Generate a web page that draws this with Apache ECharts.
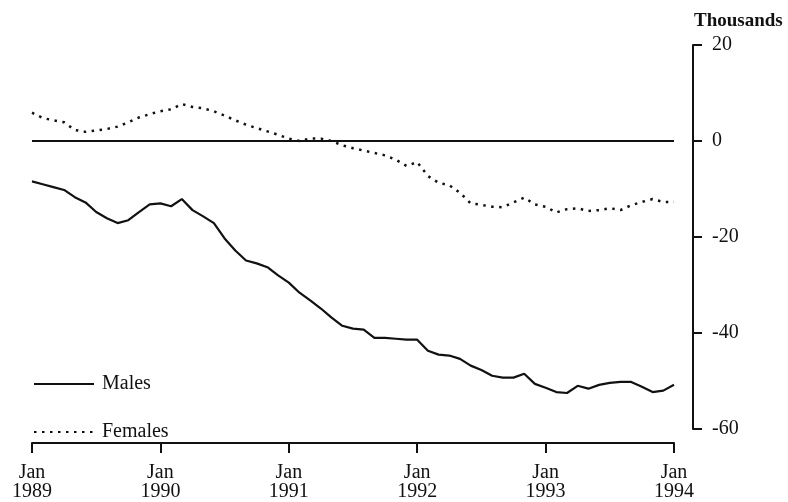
<!DOCTYPE html>
<html>
<head>
<meta charset="utf-8">
<script src="https://cdn.jsdelivr.net/npm/echarts@6/dist/echarts.min.js"></script>
<style>
  html, body { margin: 0; padding: 0; background: #fff; }
  #main { width: 788px; height: 502px; }
</style>
</head>
<body>
<div id="main"></div>
<script>
// monthly, Jan 1989 .. Jan 1994 (thousands)
var tickLabels = ['Jan\n1989', 'Jan\n1990', 'Jan\n1991', 'Jan\n1992', 'Jan\n1993', 'Jan\n1994'];
var males = [
    -8.4, -9.0, -9.6, -10.2, -11.7, -12.8, -14.8, -16.1, -17.1, -16.5, -14.8, -13.2,
    -13.0, -13.6, -12.1, -14.4, -15.7, -17.1, -20.3, -22.8, -24.9, -25.5, -26.3, -28.0,
    -29.5, -31.6, -33.2, -34.9, -36.8, -38.5, -39.1, -39.3, -41.0, -41.0, -41.2, -41.4,
    -41.4, -43.7, -44.5, -44.7, -45.4, -46.8, -47.7, -48.9, -49.3, -49.3, -48.5, -50.6,
    -51.4, -52.3, -52.5, -51.0, -51.6, -50.8, -50.4, -50.2, -50.2, -51.2, -52.3, -52.0,
    -50.8
];
var females = [
    5.9, 4.8, 4.3, 3.9, 2.3, 1.9, 2.2, 2.5, 3.0, 3.9, 4.9, 5.6,
    6.2, 6.6, 7.7, 7.1, 6.8, 6.2, 5.3, 4.3, 3.4, 2.7, 2.0, 1.3,
    0.5, 0.0, 0.5, 0.5, 0.0, -0.9, -1.5, -2.0, -2.5, -3.0, -3.9, -5.2,
    -4.4, -7.3, -8.7, -9.2, -10.8, -13.0, -13.3, -13.7, -13.8, -12.8, -11.8, -13.2,
    -13.7, -14.9, -14.2, -14.0, -14.6, -14.4, -14.0, -14.4, -13.4, -12.7, -12.1, -12.7,
    -12.7
];

function pairs(arr) {
    return arr.map(function (v, i) { return [i, v]; });
}

var ink = '#111';
var serif = 'Liberation Serif';

var option = {
    animation: false,
    backgroundColor: '#fff',
    grid: { left: 32, right: 114, top: 45, bottom: 73, outerBoundsMode: 'none', containLabel: false },
    legend: {
        orient: 'vertical',
        left: 28,
        top: 369,
        itemWidth: 60,
        itemHeight: 14,
        itemGap: 28,
        itemStyle: { opacity: 0 },
        textStyle: { fontFamily: serif, fontSize: 20, color: ink, padding: [0, 0, 0, 3] },
        data: ['Males', 'Females']
    },
    xAxis: {
        type: 'value',
        min: 0, max: 60, interval: 12,
        offset: 14,
        splitLine: { show: false },
        axisLine: { onZero: false, lineStyle: { color: ink, width: 2 } },
        axisTick: { length: 10, lineStyle: { color: ink, width: 2 } },
        axisLabel: {
            margin: 20,
            fontFamily: serif, fontSize: 20, color: ink, lineHeight: 19,
            formatter: function (v) { return tickLabels[v / 12] || ''; }
        }
    },
    yAxis: {
        type: 'value',
        position: 'right',
        offset: 19,
        min: -60, max: 20, interval: 20,
        name: 'Thousands',
        nameLocation: 'end',
        nameGap: 14,
        nameTextStyle: {
            fontFamily: serif, fontSize: 19, fontWeight: 'bold', color: ink,
            align: 'left', padding: [0, 0, 0, 1]
        },
        splitLine: { show: false },
        axisLine: { show: true, onZero: false, lineStyle: { color: ink, width: 2 } },
        axisTick: { show: true, length: 9, lineStyle: { color: ink, width: 2 } },
        axisLabel: { margin: 19, fontFamily: serif, fontSize: 20, color: ink }
    },
    series: [
        {
            name: 'Males',
            type: 'line',
            symbol: 'none',
            data: pairs(males),
            lineStyle: { color: ink, width: 2.2 },
            itemStyle: { color: ink },
            markLine: {
                silent: true,
                symbol: ['none', 'none'],
                label: { show: false },
                lineStyle: { color: ink, width: 2, type: 'solid' },
                data: [{ yAxis: 0 }]
            }
        },
        {
            name: 'Females',
            type: 'line',
            symbol: 'none',
            data: pairs(females),
            lineStyle: { color: ink, width: 2.5, type: [2.5, 5.5] },
            itemStyle: { color: ink }
        }
    ]
};

var myChart = echarts.init(document.getElementById('main'));
myChart.setOption(option);
</script>
</body>
</html>
